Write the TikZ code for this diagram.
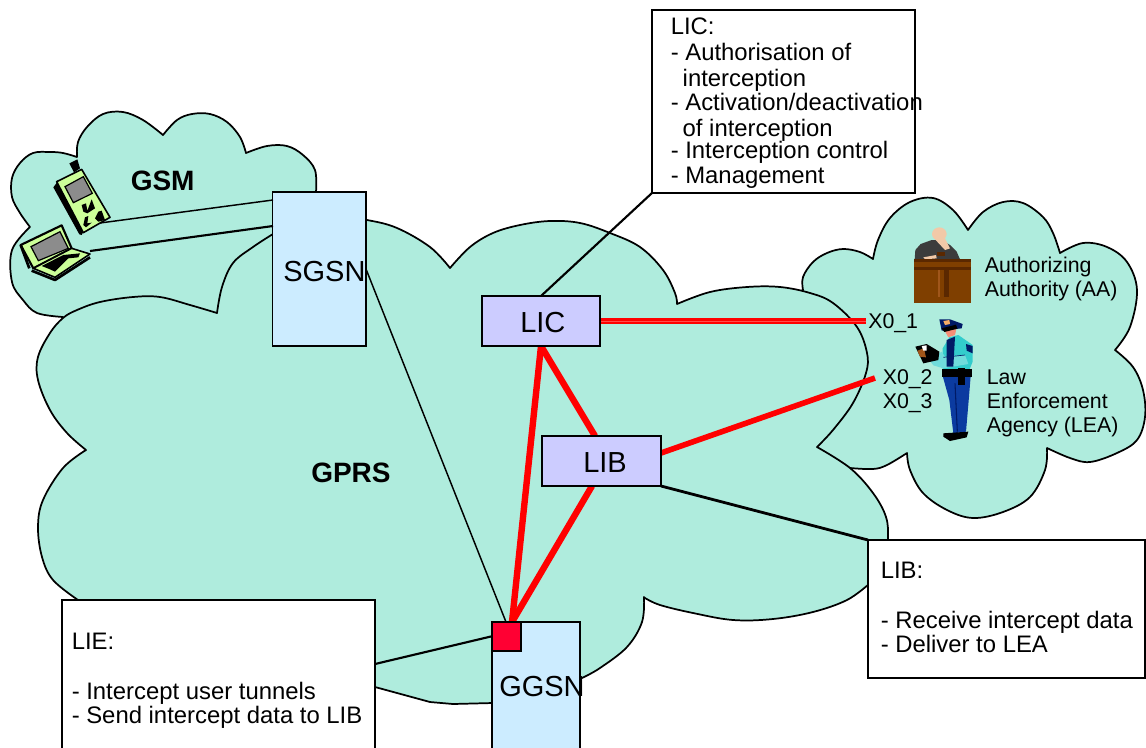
\documentclass[tikz,border=0pt]{standalone}
\usepackage{fontspec}
\setmainfont{Liberation Sans}
\definecolor{cloudc}{HTML}{AFECDD}
\definecolor{nodec}{HTML}{CCECFF}
\definecolor{boxc}{HTML}{CCCCFF}
\definecolor{lired}{HTML}{FF0033}
\definecolor{ph}{HTML}{CCFF99}
\definecolor{scr}{HTML}{8C8C8C}
\definecolor{wood}{HTML}{7F3F00}
\definecolor{wooddk}{HTML}{5A2800}
\definecolor{woodlt}{HTML}{A0561A}
\definecolor{robe}{HTML}{3C3C3C}
\definecolor{skin}{HTML}{F2C9A8}
\definecolor{shirt}{HTML}{33CCCC}
\definecolor{pants}{HTML}{0B3BA0}
\definecolor{navy}{HTML}{001A66}
\tikzset{
  cloud shape/.style={fill=cloudc,draw=black,line width=1.3pt,line join=round},
  sm/.style={smooth,tension=.6},
  netbox/.style={draw=black,line width=1.4pt,fill=nodec,anchor=north west,inner sep=0pt,outer sep=0pt},
  libox/.style={fill=boxc,anchor=north west,inner sep=0pt,outer sep=0pt},
  notebox/.style={draw=black,line width=1.4pt,fill=white,anchor=north west,inner sep=0pt,outer sep=0pt},
  big/.style={inner sep=0pt,anchor=base west,font=\fontsize{21.75}{24}\selectfont},
  bold/.style={inner sep=0pt,anchor=base west,font=\fontsize{21}{24}\selectfont\bfseries},
  small/.style={inner sep=0pt,anchor=base west,font=\fontsize{16}{18}\selectfont},
  notetext/.style={inner sep=0pt,anchor=north west,align=left,font=\fontsize{17.9}{18.5}\selectfont},
  redlink/.style={draw=red,line width=4.8pt},
  redthin/.style={draw=red,line width=4.2pt},
  wire/.style={draw=black,line width=1.6pt},
  wirethin/.style={draw=black,line width=1.1pt},
  boxedge/.style={draw=black,line width=1.4pt}
}
\begin{document}
\begin{tikzpicture}[x=0.75pt,y=-0.75pt]
\clip (0,0) rectangle (1146,747);
\fill[white] (0,0) rectangle (1146,747);
% GSM cloud
\path[cloud shape]
  plot[sm] coordinates {(30,227) (20,213) (12,197) (12,178) (20,163) (33,153) (50,152) (63,153) (77,157)}
  -- plot[sm] coordinates {(77,157) (78,142) (87,127) (103,114) (123,112) (143,120) (163,135)}
  -- plot[sm] coordinates {(163,135) (177,120) (192,114) (210,114) (227,122) (240,137) (246,153)}
  -- plot[sm] coordinates {(246,153) (267,146) (287,146) (303,155) (315,170) (316,192)}
  -- (316,250) -- (300,325) -- (63,325)
  -- plot[sm] coordinates {(63,317) (37,313) (23,300) (12,282) (12,250) (30,227)} -- cycle;
% LEA cloud
\path[cloud shape]
  plot[sm] coordinates {(803,290) (803,277) (813,262) (827,253) (843,249) (860,252) (873,259)}
  -- plot[sm] coordinates {(873,259) (878,240) (890,218) (910,202) (933,198) (953,210) (968,230)}
  -- plot[sm] coordinates {(968,230) (983,212) (1003,202) (1023,203) (1043,217) (1053,233) (1060,253)}
  -- plot[sm] coordinates {(1060,253) (1083,243) (1107,247) (1127,262) (1137,290) (1130,327) (1115,350)}
  -- plot[sm] coordinates {(1115,350) (1133,367) (1143,390) (1145,417) (1137,440) (1117,453) (1090,462) (1070,458) (1047,448)}
  -- plot[sm] coordinates {(1047,448) (1045,470) (1030,497) (1003,512) (973,518) (947,510) (923,493) (910,470) (907,453)}
  -- plot[sm] coordinates {(907,453) (887,465) (873,469) (850,468)}
  -- (800,450) -- (780,300) -- cycle;
% GPRS cloud
\path[cloud shape]
  plot[sm] coordinates {(217,313) (190,305) (160,297) (133,297) (100,302) (77,310) (63,318) (50,333) (38,357) (38,380) (50,410) (67,433) (86,450)}
  -- plot[sm] coordinates {(86,450) (63,468) (43,500) (38,527) (42,557) (53,580) (78,600)}
  -- (150,640) -- (250,665) -- (375,687) -- (430,702) -- (453,704) -- (493,703)
  -- (582,678)
  -- plot[sm] coordinates {(582,678) (600,668) (627,647) (642,622) (644,597)}
  -- plot[sm] coordinates {(645,598) (660,605) (693,613) (733,620) (773,619) (813,612) (847,600) (869,584)}
  -- plot[sm] coordinates {(869,584) (885,565) (888,540) (886,517) (873,493) (850,468) (817,447)}
  -- plot[sm] coordinates {(817,447) (833,430) (853,403) (866,373) (867,353) (857,327) (833,303) (810,293) (780,287) (747,287) (710,292) (677,304)}
  -- plot[sm] coordinates {(677,304) (675,293) (663,270) (640,247) (610,233) (580,223) (550,221) (520,225) (493,233) (470,247) (450,268)}
  -- plot[sm] coordinates {(450,268) (430,247) (397,228) (367,220) (330,215) (290,222)}
  -- plot[sm] coordinates {(273,234) (253,247) (233,263) (222,287) (217,313)} -- cycle;
% nodes
\node[netbox,minimum width=93.5*0.75pt,minimum height=154*0.75pt] (sgsn) at (272.5,192) {};
\node[netbox,minimum width=88*0.75pt,minimum height=150*0.75pt] (ggsn) at (492,622) {};
\coordinate (phoneend) at (100,223);
\coordinate (laptopend) at (90,251);
\coordinate (sgsnA) at (273,200);
\coordinate (sgsnB) at (273,226);
\coordinate (xone) at (866,321);
\coordinate (xtwo) at (875,378);
\coordinate (libtop) at (595,436);
\coordinate (libeast) at (661,453);
\coordinate (libbot) at (592,486);
\coordinate (libcorner) at (661,486);
\coordinate (redA) at (512,622);
\coordinate (lieA) at (375,664);
\coordinate (lieB) at (493,636);
% connectors
\draw[wirethin] (phoneend) -- (sgsnA);
\draw[wire] (laptopend) -- (sgsnB);
\draw[wirethin] (sgsn.east) -- (506,622);
\node[libox,minimum width=118*0.75pt,minimum height=50*0.75pt] (lic) at (482,296) {};
\node[libox,minimum width=119*0.75pt,minimum height=50*0.75pt] (lib) at (542,436) {};
\node[fill=lired,anchor=north west,inner sep=0pt,outer sep=0pt,minimum width=29*0.75pt,minimum height=29*0.75pt] (lie) at (492,622) {};
\node[notebox,minimum width=263*0.75pt,minimum height=183*0.75pt] (licnote) at (652,10) {};
\node[notebox,minimum width=277*0.75pt,minimum height=138*0.75pt] (libnote) at (868,540) {};
\node[notebox,minimum width=313*0.75pt,minimum height=160*0.75pt] (lienote) at (62,600) {};
\draw[wire] (lic.north) -- (licnote.south west);
\draw[redthin] (lic.east) -- (lic.east -| xone);
\draw[draw=red!70!white,line width=.5pt] (lic.east) -- (lic.east -| xone);
\draw[redlink] (lic.south) -- (libtop);
\draw[redlink] (lic.south) -- (redA);
\draw[redlink] (libbot) -- (redA);
\draw[redthin] (libeast) -- (xtwo);
\draw[draw=black,line width=2.1pt] (libcorner) -- (libnote.north west);
\draw[wire] (lieA) -- (lieB);
% box faces and edges over the link ends
\draw[boxedge,fill=boxc] (lic.north west) rectangle (lic.south east);
\draw[boxedge,fill=boxc] (lib.north west) rectangle (lib.south east);
\draw[boxedge,fill=lired] (lie.north west) rectangle (lie.south east);
% phone
\begin{scope}[shift={(0,140)},x=.25pt,y=-.25pt]
  \fill[black] (208,70) -- (232,58) -- (240,85) -- (222,97) -- cycle;
  \fill[black] (160,142) -- (175,122) -- (250,275) -- (245,285) -- (238,283) -- cycle;
  \draw[black,line width=1.2pt,fill=ph,line join=round] (170,125) -- (245,88) -- (330,232) -- (250,278) -- cycle;
  \draw[black,line width=.9pt,fill=scr] (195,140) -- (250,110) -- (277,160) -- (220,188) -- cycle;
  \fill[black] (245,195) -- (258,190) -- (262,212) -- (275,178) -- (285,205) -- (262,220) -- (250,215) -- cycle;
  \fill[black] (255,232) -- (265,228) -- (262,250) -- (275,248) -- (258,262) -- (250,255) -- cycle;
  \fill[black] (295,215) -- (305,212) -- (315,240) -- (295,245) -- (285,235) -- cycle;
% laptop
  \draw[black,line width=1.6pt,fill=ph,line join=round] (62,315) -- (185,256) -- (215,325) -- (100,385) -- cycle;
  \draw[black,line width=.9pt,fill=scr] (93,320) -- (180,275) -- (205,325) -- (115,362) -- cycle;
  \draw[black,line width=1.2pt,fill=ph,line join=round] (100,385) -- (215,325) -- (270,342) -- (165,412) -- cycle;
  \draw[black,line width=2pt,line join=round] (95,392) -- (165,420) -- (270,352);
  \draw[black,line width=2pt] (62,315) -- (88,385);
  \fill[black] (125,378) -- (190,345) -- (240,340) -- (235,352) -- (205,355) -- (165,395) -- (150,388) -- cycle;
\end{scope}
% judge and police officer
\begin{scope}[shift={(900,220)},x=.25pt,y=-.25pt]
  \fill[robe] (44,118) -- (46,90) -- (62,72) -- (95,60) -- (125,60) -- (150,75) -- (170,95) -- (180,118) -- cycle;
  \fill[skin] (118,42) ellipse [x radius=22,y radius=20];
  \fill[skin] (105,58) -- (135,55) -- (150,85) -- (135,90) -- cycle;
  \fill[skin] (70,112) -- (108,105) -- (110,115) -- (75,118) -- cycle;
  \fill[wooddk] (112,97) rectangle (135,108);
  \fill[wood] (42,118) rectangle (213,250);
  \fill[wooddk] (42,118) rectangle (213,127);
  \fill[wooddk] (42,142) rectangle (213,150);
  \fill[woodlt] (115,150) rectangle (120,232);
  \fill[wooddk] (133,150) rectangle (146,232);
  % trousers
  \fill[pants] (128,468) -- (212,468) -- (207,530) -- (198,635) -- (160,640) -- (148,540) -- cycle;
  \draw[navy,line width=.8pt] (165,490) -- (172,635);
  % shirt
  \fill[shirt] (128,385) -- (148,352) -- (175,345) -- (218,375) -- (218,425) -- (208,450) -- (128,450) -- cycle;
  \fill[shirt!70!white] (88,420) -- (125,395) -- (135,410) -- (195,405) -- (205,432) -- (130,445) -- (100,436) -- cycle;
  \draw[navy,line width=.5pt] (130,412) -- (195,405);
  \fill[navy] (198,372) -- (218,378) -- (218,400) -- (200,392) -- cycle;
  \fill[black] (125,448) rectangle (215,470);
  \fill[black] (175,445) rectangle (195,495);
  \fill[navy] (140,360) -- (165,350) -- (160,440) -- (140,440) -- cycle;
  % head
  \fill[skin!70!red] (133,330) -- (170,322) -- (165,345) -- (145,352) -- cycle;
  \fill[navy] (118,298) -- (150,298) -- (188,312) -- (185,325) -- (125,332) -- cycle;
  \fill[skin!60!orange] (130,303) -- (148,300) -- (150,312) -- (135,315) -- cycle;
  \fill[black] (125,325) -- (168,314) -- (172,326) -- (133,336) -- cycle;
  % shoes
  \fill[black] (130,640) -- (205,635) -- (200,652) -- (150,663) -- (130,650) -- cycle;
  % clipboard
  \fill[black] (46,380) -- (80,372) -- (118,395) -- (115,420) -- (70,430) -- cycle;
  \fill[woodlt] (52,392) -- (72,385) -- (78,412) -- (60,410) -- cycle;
  \fill[white] (65,378) -- (80,376) -- (80,392) -- (70,392) -- cycle;
\end{scope}
% labels
\node[bold] (gsmlabel) at (130.5,190) {GSM};
\node[bold] (gprslabel) at (311,482) {GPRS};
\node[big] (sgsnlabel) at (283,281) {SGSN};
\node[big] (ggsnlabel) at (499,696) {GGSN};
\node[big] (liclabel) at (520,332) {LIC};
\node[big] (liblabel) at (583,472) {LIB};
\node[small] (xa) at (868,328) {X0\_1};
\node[small] (xb) at (882.5,384) {X0\_2};
\node[small] (xc) at (882.5,408) {X0\_3};
\node[small] (aa1) at (984.5,272) {Authorizing};
\node[small] (aa2) at (984.5,296) {Authority (AA)};
\node[small] (lea1) at (986.5,384) {Law};
\node[small] (lea2) at (986.5,408) {Enforcement};
\node[small] (lea3) at (986.5,432) {Agency (LEA)};
\node[notetext] (lictext) at (670.5,18) {LIC:\\[.75pt]- Authorisation of\\[.75pt]\hspace*{.5em}interception\\- Activation/deactivation\\[.75pt]\hspace*{.5em}of interception\\[-2.25pt]- Interception control\\[.75pt]- Management};
\node[notetext] (libtext) at (880.5,562) {LIB:\\\mbox{}\\- Receive intercept data\\- Deliver to LEA};
\node[notetext] (lietext) at (71.5,633) {LIE:\\\mbox{}\\- Intercept user tunnels\\- Send intercept data to LIB};
\end{tikzpicture}
\end{document}
